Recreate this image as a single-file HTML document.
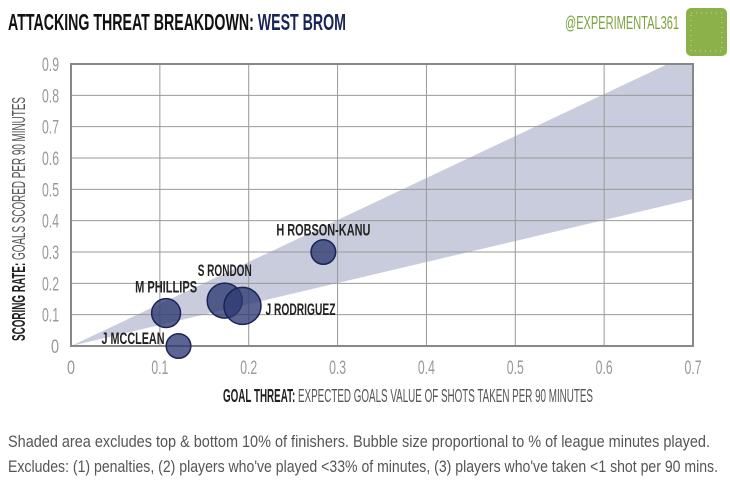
<!DOCTYPE html>
<html><head><meta charset="utf-8"><style>
body{margin:0;background:#fff;width:730px;height:487px;overflow:hidden}
text{font-family:"Liberation Sans Narrow","Liberation Sans",sans-serif}
</style></head><body>
<svg id="chart" width="730" height="487" xmlns="http://www.w3.org/2000/svg">
<text x="8" y="30" font-size="23" font-weight="bold" fill="#111" textLength="338" lengthAdjust="spacingAndGlyphs">ATTACKING THREAT BREAKDOWN:  <tspan fill="#1a2456">WEST BROM</tspan></text>
<text x="679" y="29" font-size="18" fill="#7aa33c" text-anchor="end" textLength="114" lengthAdjust="spacingAndGlyphs">@EXPERIMENTAL361</text>
<g>
<rect x="686" y="8" width="41" height="48" rx="5" fill="#8cb04a"/>
<rect x="691" y="13" width="31" height="38" fill="none" stroke="#c8dca0" stroke-width="1" stroke-dasharray="1,4"/>
</g>
<g id="plot"></g>
<text x="8" y="447" font-size="17" fill="#555" textLength="702" lengthAdjust="spacingAndGlyphs">Shaded area excludes top &amp; bottom 10% of finishers. Bubble size proportional to % of league minutes played.</text>
<text x="8" y="472" font-size="17" fill="#555" textLength="710" lengthAdjust="spacingAndGlyphs">Excludes: (1) penalties, (2) players who've played &lt;33% of minutes, (3) players who've taken &lt;1 shot per 90 mins.</text>
</svg>
<script>
const xTicks=[0,0.1,0.2,0.3,0.4,0.5,0.6,0.7];
const yTicks=[0,0.1,0.2,0.3,0.4,0.5,0.6,0.7,0.8,0.9];
const xTickLabels=["0","0.1","0.2","0.3","0.4","0.5","0.6","0.7"];
const yTickLabels=["0","0.1","0.2","0.3","0.4","0.5","0.6","0.7","0.8","0.9"];
const bandUpperSlope=[1.34];
const bandLowerSlope=[0.67];
const players=["H ROBSON-KANU","S RONDON","J RODRIGUEZ","M PHILLIPS","J MCCLEAN"];
const xgValues=[0.284,0.173,0.193,0.107,0.121];
const goalValues=[0.30,0.145,0.128,0.105,0.0];
const minutesShare=[0.42,0.85,0.95,0.58,0.42];
const NS="http://www.w3.org/2000/svg";
const X0=71,X1=693,Y0=346,Y1=64;
const sx=v=>X0+(v/0.7)*(X1-X0);
const sy=v=>Y0-(v/0.9)*(Y0-Y1);
const g=document.getElementById('plot');
function mk(t,a){const e=document.createElementNS(NS,t);for(const k in a)e.setAttribute(k,a[k]);g.appendChild(e);return e;}
let bg=mk('rect',{x:X0,y:Y1,width:X1-X0,height:Y0-Y1,fill:'#fff'});


const cp=document.createElementNS(NS,'clipPath');cp.setAttribute('id','clip');
const cr=document.createElementNS(NS,'rect');cr.setAttribute('x',X0);cr.setAttribute('y',Y1);cr.setAttribute('width',X1-X0);cr.setAttribute('height',Y0-Y1);cp.appendChild(cr);g.appendChild(cp);
const xm=0.7;
let band=mk('polygon',{points:`${sx(0)},${sy(0)} ${sx(xm)},${sy(bandUpperSlope[0]*xm)} ${sx(xm)},${sy(bandLowerSlope[0]*xm)}`,fill:'#c9ccdc','clip-path':'url(#clip)'});


xTicks.forEach((v,i)=>{
 let l=mk('line',{x1:sx(v),x2:sx(v),y1:Y1,y2:Y0,stroke:'#999','stroke-width':1});
 
 
 let t=mk('text',{x:sx(v),y:374,'font-size':19,fill:'#999','text-anchor':'middle',textLength:xTickLabels[i].length>1?17:8,lengthAdjust:'spacingAndGlyphs'});t.textContent=xTickLabels[i];
 
 
});
yTicks.forEach((v,i)=>{
 let l=mk('line',{x1:X0,x2:X1,y1:sy(v),y2:sy(v),stroke:'#999','stroke-width':1});
 
 
 let t=mk('text',{x:59,y:sy(v)+7,'font-size':19,fill:'#999','text-anchor':'end',textLength:yTickLabels[i].length>1?17:8,lengthAdjust:'spacingAndGlyphs'});t.textContent=yTickLabels[i];
 
 
});
let fr=mk('rect',{x:X0,y:Y1,width:X1-X0,height:Y0-Y1,fill:'none',stroke:'#888','stroke-width':2});


const labelPos=[[0,-16,'middle',94],[0,-19,'middle',54],[23,9,'start',70],[0,-18,'middle',62],[-14,-2,'end',63]];
players.forEach((p,i)=>{
 const r=18.5*Math.sqrt(minutesShare[i]/0.95);
 const cx=sx(xgValues[i]),cy=sy(goalValues[i]);
 let c=mk('circle',{cx,cy,r,fill:'#2e3a72','fill-opacity':0.78,stroke:'#1a2456','stroke-width':1.5});
 
 
 const lp=labelPos[i];
 let lx=cx+lp[0], ly=lp[0]===0?cy-r+lp[1]+12:cy+lp[1];
 let t=mk('text',{x:lx,y:ly,'font-size':17,'font-weight':'bold',fill:'#222','text-anchor':lp[2],textLength:lp[3],lengthAdjust:'spacingAndGlyphs'});t.textContent=p;
 
 
});
let xt=mk('text',{x:223,y:402,'font-size':18,fill:'#555',textLength:370,lengthAdjust:'spacingAndGlyphs'});
xt.innerHTML='<tspan font-weight="bold" fill="#222">GOAL THREAT:</tspan> EXPECTED GOALS VALUE OF SHOTS TAKEN PER 90 MINUTES';


let yt=mk('text',{x:0,y:0,'font-size':18,fill:'#555',transform:'translate(25,341) rotate(-90)',textLength:244,lengthAdjust:'spacingAndGlyphs'});
yt.innerHTML='<tspan font-weight="bold" fill="#222">SCORING RATE:</tspan> GOALS SCORED PER 90 MINUTES';


</script>
</body></html>
